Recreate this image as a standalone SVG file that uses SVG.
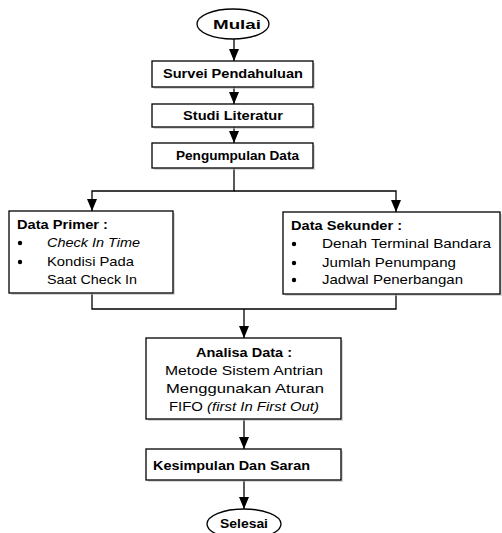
<svg xmlns="http://www.w3.org/2000/svg" width="502" height="533" viewBox="0 0 502 533">
<style>
.box{fill:#fff;stroke:#000;stroke-width:1.3}
.sh{fill:#bdbdbd;opacity:0.6}
.t{font-family:"Liberation Sans",Arial,sans-serif;font-size:13.5px;fill:#000}
.b{font-weight:bold}
.i{font-style:italic}
.c{fill:none;stroke:#000;stroke-width:1.3}
</style>
<defs>
<marker id="ah" viewBox="0 0 12 10" refX="12" refY="5" markerWidth="12" markerHeight="10" markerUnits="userSpaceOnUse" orient="auto">
<path d="M0,0 L12,5 L0,10 Z" fill="#000"/>
</marker>
</defs>
<g id="connectors">
<line class="c" x1="234" y1="39" x2="234" y2="61" marker-end="url(#ah)"/>
<line class="c" x1="234" y1="87" x2="234" y2="104" marker-end="url(#ah)"/>
<line class="c" x1="234" y1="127" x2="234" y2="143" marker-end="url(#ah)"/>
<polyline class="c" points="234,168 234,191 92,191 92,211" marker-end="url(#ah)"/>
<polyline class="c" points="234,191 396,191 396,212" marker-end="url(#ah)"/>
<polyline class="c" points="92,293 92,309 396,309 396,294"/>
<line class="c" x1="244" y1="309" x2="244" y2="338" marker-end="url(#ah)"/>
<line class="c" x1="244" y1="419" x2="244" y2="449" marker-end="url(#ah)"/>
<line class="c" x1="244" y1="480" x2="244" y2="509" marker-end="url(#ah)"/>
</g>
<g id="mulai">
<ellipse class="box" cx="233" cy="24" rx="36" ry="15"/>
<text class="t b" x="213" y="29" textLength="48" lengthAdjust="spacingAndGlyphs">Mulai</text>
</g>
<g id="survei">
<rect class="sh" x="154" y="63" width="161" height="26"/>
<rect class="box" x="152" y="61" width="161" height="26"/>
<text class="t b" x="163" y="78" textLength="140" lengthAdjust="spacingAndGlyphs">Survei Pendahuluan</text>
</g>
<g id="studi">
<rect class="sh" x="154" y="106" width="161" height="23"/>
<rect class="box" x="152" y="104" width="161" height="23"/>
<text class="t b" x="183" y="120" textLength="100" lengthAdjust="spacingAndGlyphs">Studi Literatur</text>
</g>
<g id="pengumpulan">
<rect class="sh" x="154" y="145" width="161" height="25"/>
<rect class="box" x="152" y="143" width="161" height="25"/>
<text class="t b" x="176" y="160" textLength="123" lengthAdjust="spacingAndGlyphs">Pengumpulan Data</text>
</g>
<g id="primer">
<rect class="sh" x="11" y="213" width="164" height="82"/>
<rect class="box" x="9" y="211" width="164" height="82"/>
<text class="t b" x="17" y="229" textLength="91" lengthAdjust="spacingAndGlyphs">Data Primer :</text>
<circle cx="20" cy="243" r="2.2"/>
<text class="t i" x="47" y="247" textLength="93" lengthAdjust="spacingAndGlyphs">Check In Time</text>
<circle cx="20" cy="262" r="2.2"/>
<text class="t" x="47" y="266" textLength="87" lengthAdjust="spacingAndGlyphs">Kondisi Pada</text>
<text class="t" x="47" y="284" textLength="90" lengthAdjust="spacingAndGlyphs">Saat Check In</text>
</g>
<g id="sekunder">
<rect class="sh" x="285" y="214" width="217" height="82"/>
<rect class="box" x="283" y="212" width="217" height="82"/>
<text class="t b" x="291" y="230" textLength="111" lengthAdjust="spacingAndGlyphs">Data Sekunder :</text>
<circle cx="294" cy="244" r="2.2"/>
<text class="t" x="322" y="248" textLength="169" lengthAdjust="spacingAndGlyphs">Denah Terminal Bandara</text>
<circle cx="294" cy="263" r="2.2"/>
<text class="t" x="322" y="267" textLength="134" lengthAdjust="spacingAndGlyphs">Jumlah Penumpang</text>
<circle cx="294" cy="280" r="2.2"/>
<text class="t" x="322" y="284" textLength="141" lengthAdjust="spacingAndGlyphs">Jadwal Penerbangan</text>
</g>
<g id="analisa">
<rect class="sh" x="148" y="340" width="195" height="81"/>
<rect class="box" x="146" y="338" width="195" height="81"/>
<text class="t b" x="196" y="357" textLength="96" lengthAdjust="spacingAndGlyphs">Analisa Data :</text>
<text class="t" x="165" y="375" textLength="158" lengthAdjust="spacingAndGlyphs">Metode Sistem Antrian</text>
<text class="t" x="166" y="393" textLength="158" lengthAdjust="spacingAndGlyphs">Menggunakan Aturan</text>
<text class="t" x="169" y="411" textLength="150" lengthAdjust="spacingAndGlyphs">FIFO <tspan class="i">(first In First Out)</tspan></text>
</g>
<g id="kesimpulan">
<rect class="sh" x="148" y="451" width="195" height="31"/>
<rect class="box" x="146" y="449" width="195" height="31"/>
<text class="t b" x="153" y="470" textLength="157" lengthAdjust="spacingAndGlyphs">Kesimpulan Dan Saran</text>
</g>
<g id="selesai">
<ellipse class="box" cx="244" cy="524" rx="37" ry="15"/>
<text class="t b" x="220" y="528" textLength="48" lengthAdjust="spacingAndGlyphs">Selesai</text>
</g>
</svg>
